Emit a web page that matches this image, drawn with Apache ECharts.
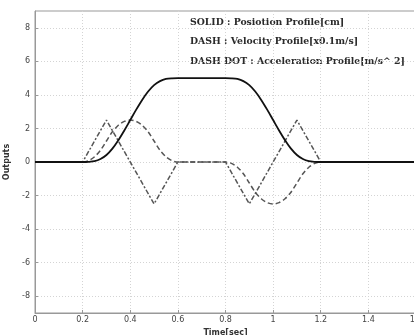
<!DOCTYPE html>
<html><head><meta charset="utf-8">
<script src="https://cdn.jsdelivr.net/npm/echarts@6/dist/echarts.min.js"></script>
<style>html,body{margin:0;padding:0;background:#fff}#c{width:414px;height:335px}</style>
</head><body><div id="c"></div>
<script>
// Time samples (sec)
const timeVals = [0,0.2,0.225,0.25,0.275,0.3,0.325,0.35,0.375,0.4,0.425,0.45,0.475,0.5,0.525,0.55,0.575,0.6,0.8,0.825,0.85,0.875,0.9,0.925,0.95,0.975,1.0,1.025,1.05,1.075,1.1,1.125,1.15,1.175,1.2,1.6];
// SOLID: position profile [cm]
const positionVals = [0,0,0.01,0.05,0.18,0.42,0.80,1.30,1.88,2.5,3.12,3.70,4.20,4.58,4.82,4.95,4.99,5,5,4.99,4.95,4.82,4.58,4.20,3.70,3.12,2.5,1.88,1.30,0.80,0.42,0.18,0.05,0.01,0,0];
// DASH: velocity profile [x0.1 m/s]
const velocityVals = [0,0,0.08,0.31,0.70,1.25,1.80,2.19,2.42,2.5,2.42,2.19,1.80,1.25,0.70,0.31,0.08,0,0,-0.08,-0.31,-0.70,-1.25,-1.80,-2.19,-2.42,-2.5,-2.42,-2.19,-1.80,-1.25,-0.70,-0.31,-0.08,0,0];
// DASH DOT: acceleration profile [m/s^2]
const accelTimes = [0,0.2,0.3,0.5,0.6,0.8,0.9,1.1,1.2,1.6];
const accelVals = [0,0,2.5,-2.5,0,0,-2.5,2.5,0,0];
// Tick labels
const yTicks = [-8,-6,-4,-2,0,2,4,6,8];
const legendLines = ['SOLID : Posiotion Profile[cm]','DASH : Velocity Profile[x0.1m/s]','DASH DOT : Acceleration Profile[m/s^ 2]'];

const pos = timeVals.map((t,i)=>[t,positionVals[i]]);
const vel = timeVals.map((t,i)=>[t,velocityVals[i]]);
const acc = accelTimes.map((t,i)=>[t,accelVals[i]]);

const chart = echarts.init(document.getElementById('c'), null, {renderer:'canvas'});
const gridLine = {show:true, lineStyle:{color:'#d4d4d4', type:[1,2], width:1}};
chart.setOption({
  animation:false,
  backgroundColor:'#fff',
  grid:{left:35, right:-2, top:11, bottom:22, outerBoundsMode:'none', containLabel:false, show:true, borderColor:'#999', borderWidth:1, backgroundColor:'#fff'},
  xAxis:{type:'value', min:0, max:1.6, interval:0.2,
    name:'Time[sec]', nameLocation:'middle', nameGap:10,
    nameTextStyle:{fontSize:8, fontWeight:'bold', color:'#333', fontFamily:'DejaVu Sans'},
    axisLine:{show:true, onZero:false, lineStyle:{color:'#999'}},
    axisTick:{show:true, inside:true, length:3, lineStyle:{color:'#999'}},
    axisLabel:{fontSize:8, color:'#444', margin:3, fontFamily:'DejaVu Sans'},
    splitLine:gridLine},
  yAxis:{type:'value', min:-9, max:9,
    name:'Outputs', nameLocation:'middle', nameGap:23,
    nameTextStyle:{fontSize:8, fontWeight:'bold', color:'#333', fontFamily:'DejaVu Sans'},
    axisLine:{show:true, onZero:false, lineStyle:{color:'#999'}},
    axisTick:{show:true, inside:true, length:3, customValues:yTicks, lineStyle:{color:'#999'}},
    axisLabel:{fontSize:8, color:'#444', margin:5, customValues:yTicks, fontFamily:'DejaVu Sans'},
    splitLine:gridLine},
  graphic: legendLines.map((s,i)=>({type:'text', left:190, top:18+i*19.5,
    style:{text:s, font:'bold 9.3px "DejaVu Serif"', fill:'#2a2a2a'}})),
  series:[
    {type:'line', data:pos, showSymbol:false, smooth:0.3, lineStyle:{color:'#111', width:1.8, type:'solid'}, z:3},
    {type:'line', data:vel, showSymbol:false, smooth:0.3, lineStyle:{color:'#555', width:1.5, type:[5,3]}, z:2},
    {type:'line', data:acc, showSymbol:false, lineStyle:{color:'#555', width:1.5, type:[5,2,2,2]}, z:2}
  ]
});
</script></body></html>
